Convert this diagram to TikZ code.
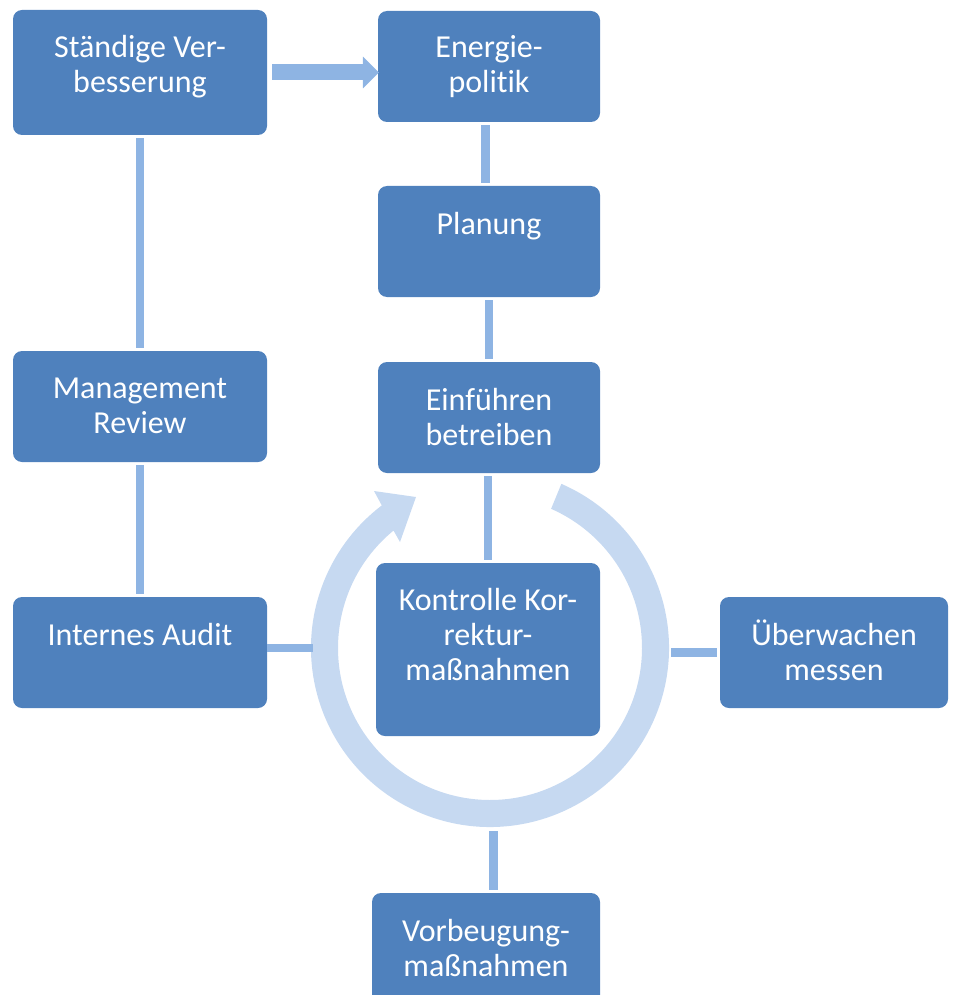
\documentclass[tikz,border=0pt]{standalone}
\usepackage{fontspec}
\setmainfont{Carlito}[Ligatures=NoCommon]
\usetikzlibrary{arrows.meta}
\definecolor{boxblue}{HTML}{4F81BD}
\definecolor{connblue}{HTML}{8EB4E3}
\definecolor{circblue}{HTML}{C6D9F1}
\begin{document}
\begin{tikzpicture}[x=1pt,y=1pt,
  box/.style={fill=boxblue, rounded corners=9pt, inner sep=0pt, draw=none},
  txt/.style={text=white, align=center, inner sep=0pt, font=\fontsize{32}{35}\selectfont},
  conn/.style={draw=connblue, line width=8.5pt, shorten <=3pt, shorten >=3pt},
  circ/.style={fill=circblue}]
\clip (0,0) rectangle (954,-995);
% boxes
\node[box, minimum width=254, minimum height=125] (sv) at (140,-72.5) {};
\node[box, minimum width=222, minimum height=111] (ep) at (489,-66.5) {};
\node[box, minimum width=222, minimum height=111] (pl) at (489,-241.5) {};
\node[box, minimum width=222, minimum height=111] (eb) at (489,-417.5) {};
\node[box, minimum width=254, minimum height=111] (mr) at (140,-406.5) {};
\node[box, minimum width=254, minimum height=111] (ia) at (140,-652.5) {};
\node[box, minimum width=224, minimum height=173] (kk) at (488,-649.5) {};
\node[box, minimum width=228, minimum height=111] (um) at (834,-652.5) {};
\node[box, minimum width=228, minimum height=173] (vm) at (486,-979.5) {};
% texts (base = baseline of last line)
\node[txt, anchor=base] (svt) at (140,-93) {Ständige Ver-\\besserung};
\node[txt, anchor=base] (ept) at (489,-93) {Energie-\\politik};
\node[txt, anchor=base] (plt) at (489,-234) {Planung};
\node[txt, anchor=base] (ebt) at (489,-445) {Einführen\\betreiben};
\node[txt, anchor=base] (mrt) at (140,-433) {Management\\Review};
\node[txt, anchor=base] (iat) at (140,-645) {Internes Audit};
\node[txt, anchor=base] (kkt) at (488,-680) {Kontrolle Kor-\\rektur-\\maßnahmen};
\node[txt, anchor=base] (umt) at (834,-680) {Überwachen\\messen};
\node[txt, anchor=base] (vmt) at (486,-976) {Vorbeugung-\\maßnahmen};
% cycle arrow
\coordinate (cyc) at (490,-648);
\fill[circ] ([shift={(490,-648)}]66.5:179) arc[start angle=66.5, end angle=-232.8, radius=179]
  -- (374,-491) -- (416,-497) -- (400,-542)
  -- ([shift={(490,-648)}]-230.6:152) arc[start angle=-230.6, end angle=66.3, radius=152] -- cycle;
% connectors
\draw[conn] (sv.south) -- (mr.north);
\draw[conn] (mr.south) -- (ia.north);
\draw[conn] ([xshift=-3.5]ep.south) -- ([xshift=-3.5]pl.north);
\draw[conn] (pl.south) -- (eb.north);
\draw[conn] ([xshift=-1]eb.south) -- ([xshift=-1]eb.south |- kk.north);
\draw[conn, shorten <=0pt, shorten >=0pt] (ia.east |- cyc) -- ([xshift=-177]cyc);
\draw[conn, shorten >=0pt] (um.west) -- ([xshift=181]cyc |- um.west);
\draw[conn, shorten <=0pt] ([shift={(3.5,-183)}]cyc) -- ([xshift=3.5]cyc |- vm.north);
\draw[draw=connblue, line width=16pt, -{Triangle[width=31pt,length=16pt]}]
  ([xshift=5]sv.east) -- ([xshift=1]ep.west |- sv.east);
\end{tikzpicture}
\end{document}
